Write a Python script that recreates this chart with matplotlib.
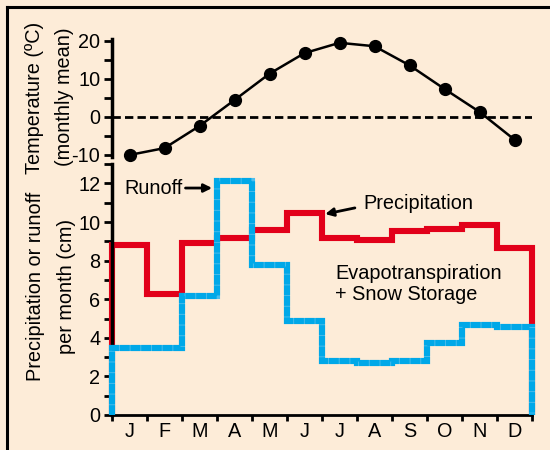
import numpy as np
import matplotlib
matplotlib.use('Agg')
import matplotlib.pyplot as plt
from matplotlib.lines import Line2D

plt.rcParams['font.family'] = ['Liberation Sans', 'DejaVu Sans']
plt.rcParams['axes.unicode_minus'] = False

months = ['J', 'F', 'M', 'A', 'M', 'J', 'J', 'A', 'S', 'O', 'N', 'D']
temperature = [-10.0, -8.2, -2.4, 4.4, 11.3, 16.7, 19.4, 18.5, 13.5, 7.3, 1.3, -6.0]
precipitation = [8.8, 6.25, 8.9, 9.15, 9.6, 10.45, 9.15, 9.05, 9.55, 9.65, 9.85, 8.65]
runoff = [3.45, 3.45, 6.15, 12.1, 7.75, 4.85, 2.8, 2.7, 2.78, 3.75, 4.68, 4.58]
temp_ticks = [-10, 0, 10, 20]

bg = '#fdecd8'
red = '#e2001a'
blue = '#00a8e8'
fs = 14.3
W, H = 550, 450

def px(x, y):
    return x / W, 1 - y / H

fig = plt.figure(figsize=(5.5, 4.5), dpi=100, facecolor=bg)

# top panel: temperature
ax1 = fig.add_axes([112 / W, 1 - 162.6 / H, 420 / W, 125.9 / H])
ax1.set_facecolor('none')
ax1.set_xlim(0, 12)
ax1.set_ylim(-12, 21)
x_mid = np.arange(12) + 0.5
ax1.axhline(0, color='black', lw=2, dashes=(3, 1.5), xmin=0, xmax=1)
ax1.plot(x_mid, temperature, color='black', lw=1.8, marker='o', ms=8.5, clip_on=False, zorder=3)
for s in ['top', 'right', 'bottom']:
    ax1.spines[s].set_visible(False)
ax1.spines['left'].set_linewidth(2.5)
ax1.spines['left'].set_bounds(-10.5, 20.5)
ax1.set_xticks([])
ax1.set_yticks(temp_ticks)
ax1.set_yticklabels([str(t) for t in temp_ticks])
ax1.set_yticks([-5, 5, 15], minor=True)
ax1.tick_params(axis='y', which='both', length=5.5, width=2, pad=3, labelsize=fs, direction='out')

# bottom panel: precipitation and runoff
ax2 = fig.add_axes([112 / W, 35 / H, 420 / W, 250.9 / H])
ax2.set_facecolor('none')
ax2.set_xlim(0, 12)
ax2.set_ylim(0, 13)
edges = np.arange(13)
ax2.stairs(precipitation, edges, baseline=0, color=red, lw=4.4, clip_on=False, zorder=2)
ax2.stairs(runoff, edges, baseline=0, color='#4cbdec', lw=4.4, clip_on=False, zorder=3)
ax2.stairs(runoff, edges, baseline=0, color=blue, lw=4.4, linestyle=(0, (1.6, 0.15)), clip_on=False, zorder=4)
for s in ['top', 'right']:
    ax2.spines[s].set_visible(False)
ax2.spines['left'].set_linewidth(2.5)
ax2.spines['bottom'].set_linewidth(2)
ax2.set_yticks(np.arange(0, 13, 2))
ax2.set_yticks(np.arange(1, 14, 2), minor=True)
ax2.tick_params(axis='y', which='both', length=5.5, width=2, pad=3, labelsize=fs)
ax2.set_xticks(edges)
ax2.set_xticklabels([])
ax2.set_xticks(x_mid, minor=True)
ax2.set_xticklabels(months, minor=True)
ax2.tick_params(axis='x', which='major', length=4.5, width=2)
ax2.tick_params(axis='x', which='minor', length=0, pad=5, labelsize=fs)

ax2.annotate('', xy=(2.86, 11.76), xytext=(2.1, 11.76),
             arrowprops=dict(arrowstyle='-|>', color='black', lw=2, mutation_scale=12,
                             shrinkA=0, shrinkB=0))
ax2.text(0.34, 11.76, 'Runoff', fontsize=fs, ha='left', va='center')
ax2.annotate('', xy=(6.09, 10.41), xytext=(6.94, 10.73),
             arrowprops=dict(arrowstyle='-|>', color='black', lw=2, mutation_scale=12,
                             shrinkA=0, shrinkB=0))
ax2.text(7.17, 10.98, 'Precipitation', fontsize=fs, ha='left', va='center')
ax2.text(6.37, 6.79, 'Evapotranspiration\n+ Snow Storage', fontsize=fs, ha='left',
         va='center', linespacing=1.15)

# y labels
fig.text(*px(35, 97.5), 'Temperature (ºC)', rotation=90, fontsize=fs, ha='center', va='center')
fig.text(*px(64, 97), '(monthly mean)', rotation=90, fontsize=fs, ha='center', va='center')
fig.text(*px(36, 286.5), 'Precipitation or runoff', rotation=90, fontsize=fs, ha='center', va='center')
fig.text(*px(67, 286), 'per month (cm)', rotation=90, fontsize=fs, ha='center', va='center')

# frame
fig.add_artist(Line2D([7 / W, 1], [1 - 7 / H, 1 - 7 / H], color='black', lw=2.2))
fig.add_artist(Line2D([7 / W, 7 / W], [0, 1 - 7 / H], color='black', lw=2.2))

fig.savefig('out.png', dpi=100, facecolor=bg)
